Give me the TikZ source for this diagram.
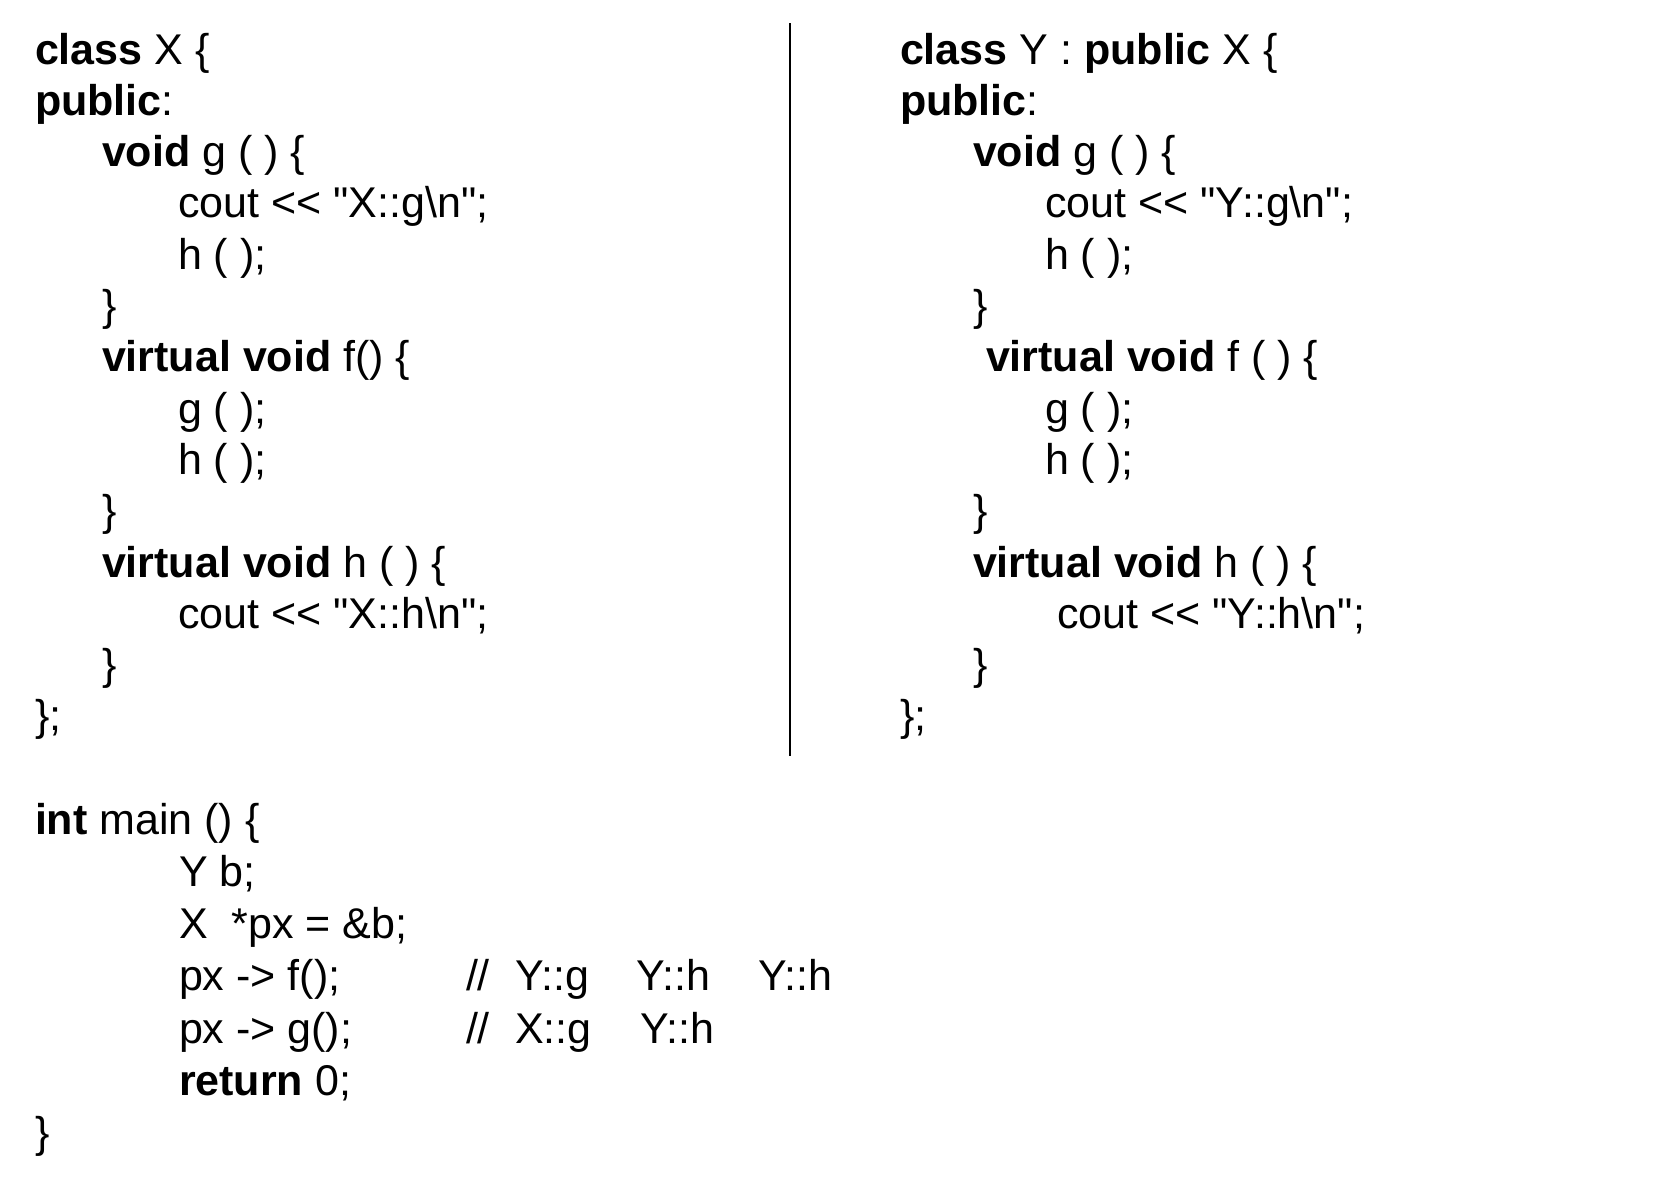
\documentclass[tikz,border=0pt]{standalone}
\usepackage{fontspec}
\setmainfont{Liberation Sans}[Ligatures=TeXOff]
\begin{document}
\begin{tikzpicture}[x=0.1mm,y=-0.1mm,
  code/.style={anchor=base west,inner sep=0pt,outer sep=0pt,font=\fontsize{12.24pt}{14pt}\selectfont},
  divider/.style={line width=0.2mm,draw=black}]
\useasboundingbox (0,0) rectangle (1664,1194);
% class X
\node[code] (x0)  at (35,64)     {\textbf{class} X \{};
\node[code] (x1)  at (35,115.3)  {\textbf{public}:};
\node[code] (x2)  at (102,166.6) {\textbf{void} g ( ) \{};
\node[code] (x3)  at (178,217.9) {cout << "X::g\textbackslash n";};
\node[code] (x4)  at (178,269.2) {h ( );};
\node[code] (x5)  at (102,320.5) {\}};
\node[code] (x6)  at (102,371.8) {\textbf{virtual void} f() \{};
\node[code] (x7)  at (178,423.1) {g ( );};
\node[code] (x8)  at (178,474.4) {h ( );};
\node[code] (x9)  at (102,525.7) {\}};
\node[code] (x10) at (102,577)   {\textbf{virtual void} h ( ) \{};
\node[code] (x11) at (178,628.3) {cout << "X::h\textbackslash n";};
\node[code] (x12) at (102,679.6) {\}};
\node[code] (x13) at (35,730.9)  {\};};
% class Y
\node[code] (y0)  at (900,64)     {\textbf{class} Y : \textbf{public} X \{};
\node[code] (y1)  at (900,115.3)  {\textbf{public}:};
\node[code] (y2)  at (973,166.6)  {\textbf{void} g ( ) \{};
\node[code] (y3)  at (1045,217.9) {cout << "Y::g\textbackslash n";};
\node[code] (y4)  at (1045,269.2) {h ( );};
\node[code] (y5)  at (973,320.5)  {\}};
\node[code] (y6)  at (986,371.8)  {\textbf{virtual void} f ( ) \{};
\node[code] (y7)  at (1045,423.1) {g ( );};
\node[code] (y8)  at (1045,474.4) {h ( );};
\node[code] (y9)  at (973,525.7)  {\}};
\node[code] (y10) at (973,577)    {\textbf{virtual void} h ( ) \{};
\node[code] (y11) at (1057,628.3) {cout << "Y::h\textbackslash n";};
\node[code] (y12) at (973,679.6)  {\}};
\node[code] (y13) at (900,730.9)  {\};};
% divider
\coordinate (dtop) at (790,23);
\coordinate (dbot) at (790,756);
\draw[divider] (dtop) -- (dbot);
% main
\node[code] (m0) at (35,834)     {\textbf{int} main () \{};
\node[code] (m1) at (179,886.3)  {Y b;};
\node[code] (m2) at (179,938.6)  {X\ \ *px = \&b;};
\node[code] (m3) at (179,990.9)  {px -> f();};
\node[code] (c3) at (466,990.9)  {\makebox[49\dimexpr0.1mm\relax][l]{//}\makebox[121\dimexpr0.1mm\relax][l]{Y::g}\makebox[122\dimexpr0.1mm\relax][l]{Y::h}Y::h};
\node[code] (m4) at (179,1043.2) {px -> g();};
\node[code] (c4) at (466,1043.2) {\makebox[49\dimexpr0.1mm\relax][l]{//}\makebox[125\dimexpr0.1mm\relax][l]{X::g}Y::h};
\node[code] (m5) at (179,1095.5) {\textbf{return} 0;};
\node[code] (m6) at (35,1147.8)  {\}};
\end{tikzpicture}
\end{document}
